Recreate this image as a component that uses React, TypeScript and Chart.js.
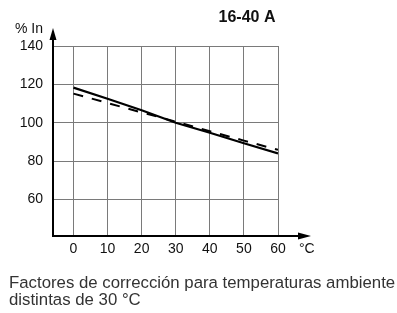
import React, { useEffect, useRef } from "react";
import { Chart, registerables } from "chart.js";

Chart.register(...registerables);

const temps = [0, 10, 20, 30, 40, 50, 60];
const solidValues = [118.3, 112.5, 106.5, 100, 94.8, 89.3, 84];
const dashedValues = [115.2, 110.3, 105.4, 100.6, 95.6, 90.7, 85.9];
const xTicks = [0, 10, 20, 30, 40, 50, 60];
const yTicks = [60, 80, 100, 120, 140];
const titleText = "16-40 A";
const yAxisLabel = "% In";
const xAxisLabel = "°C";
const captionLines = [
  "Factores de corrección para temperaturas ambiente",
  "distintas de 30 °C",
];

const FONT = '"Liberation Sans", Arial, Helvetica, sans-serif';

const decorPlugin = {
  id: "decor",
  afterDraw(chart: any) {
    const ctx = chart.ctx;
    const area = chart.chartArea;
    const left = area.left;
    const bottom = area.bottom;
    ctx.save();
    ctx.strokeStyle = "#000";
    ctx.fillStyle = "#000";
    ctx.lineWidth = 2;
    // y axis with arrow
    const yTip = 28;
    ctx.beginPath();
    ctx.moveTo(left, bottom + 1);
    ctx.lineTo(left, yTip + 6);
    ctx.stroke();
    ctx.beginPath();
    ctx.moveTo(left, yTip);
    ctx.lineTo(left - 3.5, yTip + 12);
    ctx.lineTo(left + 3.5, yTip + 12);
    ctx.closePath();
    ctx.fill();
    // x axis with arrow
    const xTip = 311;
    ctx.beginPath();
    ctx.moveTo(left - 1, bottom);
    ctx.lineTo(xTip - 6, bottom);
    ctx.stroke();
    ctx.beginPath();
    ctx.moveTo(xTip, bottom);
    ctx.lineTo(xTip - 13, bottom - 3.5);
    ctx.lineTo(xTip - 13, bottom + 3.5);
    ctx.closePath();
    ctx.fill();

    // title
    ctx.fillStyle = "#111";
    ctx.font = `bold 16px ${FONT}`;
    ctx.textAlign = "center";
    ctx.textBaseline = "alphabetic";
    ctx.fillText(titleText, 247, 22);
    // y label
    ctx.font = `14px ${FONT}`;
    ctx.textAlign = "right";
    ctx.fillText(yAxisLabel, 43, 33);
    // x label
    ctx.textAlign = "left";
    ctx.fillText(xAxisLabel, 299, 253);
    // caption
    ctx.fillStyle = "#333";
    ctx.font = `16.8px ${FONT}`;
    ctx.fillText(captionLines[0], 9, 288);
    ctx.fillText(captionLines[1], 9, 305);
    ctx.restore();
  },
};

export default function App() {
  const ref = useRef<HTMLCanvasElement>(null);
  useEffect(() => {
    if (!ref.current) return;
    const chart = new Chart(ref.current, {
      type: "line",
      data: {
        datasets: [
          {
            data: temps.map((t, i) => ({ x: t, y: solidValues[i] })),
            borderColor: "#000",
            borderWidth: 2.2,
            pointRadius: 0,
            tension: 0,
            fill: false,
          },
          {
            data: temps.map((t, i) => ({ x: t, y: dashedValues[i] })),
            borderColor: "#000",
            borderWidth: 2,
            borderDash: [10, 9],
            pointRadius: 0,
            tension: 0,
            fill: false,
          },
        ],
      },
      options: {
        animation: false,
        responsive: false,
        layout: { padding: { left: 0, right: 119, top: 46, bottom: 0 } },
        plugins: {
          legend: { display: false },
          tooltip: { enabled: false },
          title: { display: false },
        },
        scales: {
          x: {
            type: "linear",
            min: -6,
            max: 60,
            afterBuildTicks: (scale: any) => {
              scale.ticks = xTicks.map((v) => ({ value: v }));
            },
            afterFit: (scale: any) => {
              scale.height = 77;
            },
            grid: { color: "#7a7a7a", lineWidth: 1, drawTicks: false },
            border: { display: false },
            ticks: {
              color: "#111",
              font: { family: FONT, size: 14 },
              padding: 5,
              maxRotation: 0,
              autoSkip: false,
            },
          },
          y: {
            type: "linear",
            min: 41,
            max: 140,
            afterBuildTicks: (scale: any) => {
              scale.ticks = yTicks.map((v) => ({ value: v }));
            },
            afterFit: (scale: any) => {
              scale.width = 53;
            },
            grid: { color: "#7a7a7a", lineWidth: 1, drawTicks: false },
            border: { display: false },
            ticks: {
              color: "#111",
              font: { family: FONT, size: 14 },
              padding: 10,
              autoSkip: false,
            },
          },
        },
      },
      plugins: [decorPlugin],
    });
    return () => chart.destroy();
  }, []);
  return (
    <div style={{ position: "absolute", left: 0, top: 0, width: 397, height: 313, background: "#fff" }}>
      <canvas ref={ref} width={397} height={313} style={{ display: "block" }} />
    </div>
  );
}
